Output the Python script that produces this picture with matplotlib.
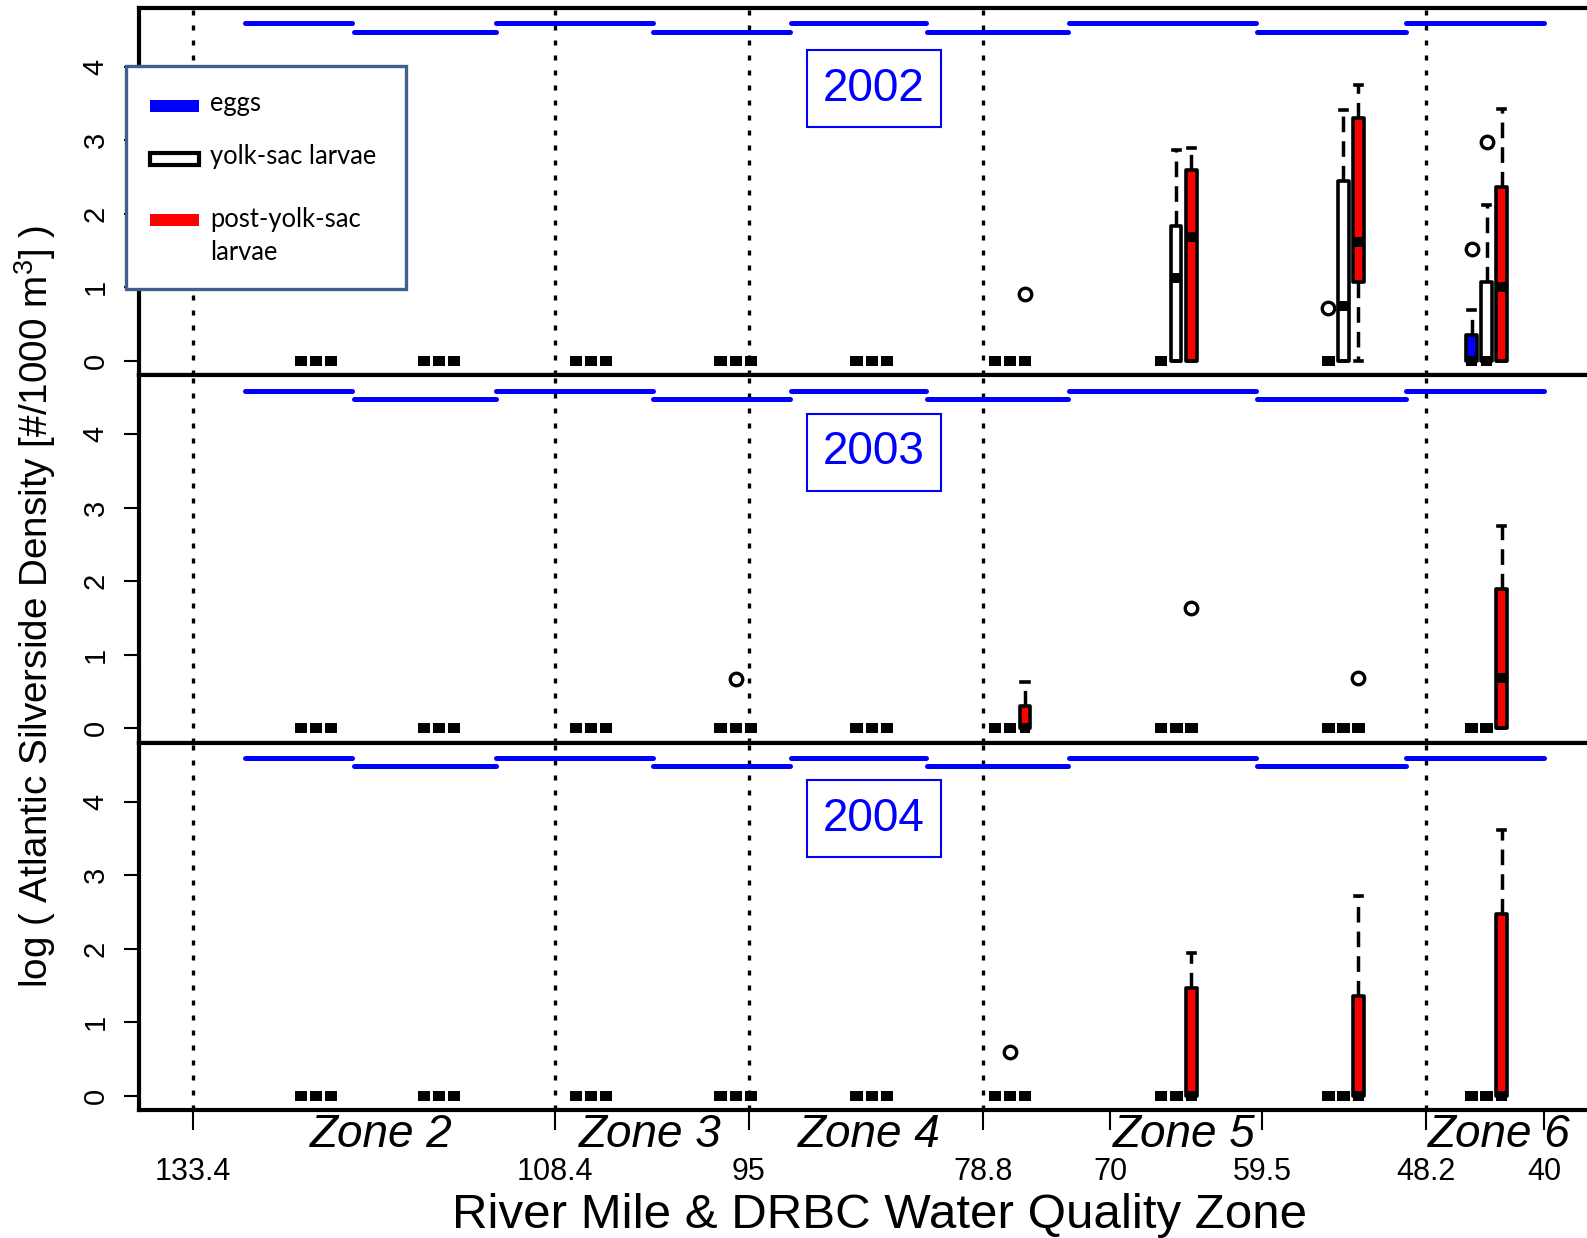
import matplotlib
matplotlib.use("Agg")
import matplotlib.pyplot as plt
import matplotlib.transforms as mtransforms
from matplotlib.patches import Rectangle

plt.rcParams['font.family'] = ['Liberation Sans', 'DejaVu Sans']
plt.rcParams['mathtext.fontset'] = 'custom'
plt.rcParams['mathtext.rm'] = 'Liberation Sans'
plt.rcParams['mathtext.it'] = 'Liberation Sans:italic'

# ---- data -------------------------------------------------------------
years = ["2002", "2003", "2004"]
station_mile = [124.9, 116.4, 105.9, 95.9, 86.5, 76.95, 65.45, 53.9, 44.0]
stage_names = ["eggs", "yolk-sac larvae", "post-yolk-sac", "larvae"]
stage_colors = ["#0000ff", "white", "#ff0000"]

zone_bounds = [133.4, 108.4, 95, 78.8, 48.2]
tick_miles = [133.4, 108.4, 95, 78.8, 70, 59.5, 48.2, 40]
tick_labels = ["133.4", "108.4", "95", "78.8", "70", "59.5", "48.2", "40"]
zone_names = ["Zone 2", "Zone 3", "Zone 4", "Zone 5", "Zone 6"]
zone_label_mile = [120.4, 101.8, 86.7, 64.9, 43.1]

# sampling reaches shown as blue bars along the top of each panel
reach_start = [129.8, 122.3, 112.45, 101.6, 92.1, 82.7, 72.9, 59.9, 49.55]
reach_end = [122.4, 112.5, 101.65, 92.15, 82.75, 72.95, 59.95, 49.6, 40.0]
reach_level = [4.59, 4.48, 4.59, 4.48, 4.59, 4.48, 4.59, 4.48, 4.59]

# box stats per station: (whislo, q1, med, q3, whishi, fliers) for eggs, yolk-sac, post-yolk-sac
Z = (0, 0, 0, 0, 0, ())
box_2002 = [
    [Z, Z, Z],
    [Z, Z, Z],
    [Z, Z, Z],
    [Z, Z, Z],
    [Z, Z, Z],
    [Z, Z, (0, 0, 0, 0, 0, (0.91,))],
    [Z, (0, 0, 1.13, 1.84, 2.87, ()), (0, 0, 1.69, 2.59, 2.89, ())],
    [(0, 0, 0, 0, 0, (0.72,)), (0, 0, 0.75, 2.45, 3.41, ()), (0, 1.07, 1.61, 3.30, 3.75, ())],
    [(0, 0, 0, 0.35, 0.69, (1.52,)), (0, 0, 0, 1.07, 2.12, (2.98,)), (0, 0, 1.01, 2.37, 3.42, ())],
]
box_2003 = [
    [Z, Z, Z],
    [Z, Z, Z],
    [Z, Z, Z],
    [Z, (0, 0, 0, 0, 0, (0.67,)), Z],
    [Z, Z, Z],
    [Z, Z, (0, 0, 0, 0.30, 0.63, ())],
    [Z, Z, (0, 0, 0, 0, 0, (1.63,))],
    [Z, Z, (0, 0, 0, 0, 0, (0.69,))],
    [Z, Z, (0, 0, 0.69, 1.89, 2.75, ())],
]
box_2004 = [
    [Z, Z, Z],
    [Z, Z, Z],
    [Z, Z, Z],
    [Z, Z, Z],
    [Z, Z, Z],
    [Z, (0, 0, 0, 0, 0, (0.60,)), Z],
    [Z, Z, (0, 0, 0, 1.47, 1.94, ())],
    [Z, Z, (0, 0, 0, 1.36, 2.72, ())],
    [Z, Z, (0, 0, 0, 2.47, 3.61, ())],
]
all_boxes = [box_2002, box_2003, box_2004]

# ---- figure -----------------------------------------------------------
fig = plt.figure(figsize=(15.87, 12.38), dpi=100)
left, right, top, bottom = 0.0874, 1.0, 0.9935, 0.1031
ph = (top - bottom) / 3
offset = 1.04
year_y = [0.78, 0.791, 0.794]

axes = []
for i, year in enumerate(years):
    ax = fig.add_axes([left, top - (i + 1) * ph, right - left, ph])
    axes.append(ax)
    ax.set_xlim(137.17, 37.06)
    ax.set_ylim(-0.2, 4.8)
    for s in ["left", "top", "bottom"]:
        ax.spines[s].set_linewidth(3)
    ax.spines["right"].set_visible(False)

    for xm in zone_bounds:
        ax.axvline(xm, color="black", lw=2.4, linestyle=(0, (1.5, 3)), zorder=1)

    for x0, x1, lv in zip(reach_start, reach_end, reach_level):
        ax.plot([x0, x1], [lv, lv], color="#0000ff", lw=3.6,
                solid_capstyle="round", zorder=2)

    stats, pos, cols, wids = [], [], [], []
    for k, st in enumerate(all_boxes[i]):
        for j in range(3):
            wlo, q1, med, q3, whi, fl = st[j]
            stats.append(dict(whislo=wlo, q1=q1, med=med, q3=q3,
                              whishi=whi, fliers=list(fl)))
            # river mile decreases to the right
            pos.append(station_mile[k] - (j - 1) * offset)
            cols.append(stage_colors[j])
            wids.append(0.86 if q3 == q1 else 0.72)
    bp = ax.bxp(stats, positions=pos, widths=wids, capwidths=0.5,
                patch_artist=True, manage_ticks=False,
                boxprops=dict(linewidth=2.6, edgecolor="black"),
                medianprops=dict(color="black", linewidth=7.2,
                                 solid_capstyle="butt"),
                whiskerprops=dict(color="black", linewidth=2.5,
                                  linestyle=(0, (4.5, 2.6))),
                capprops=dict(color="black", linewidth=2.6),
                flierprops=dict(marker="o", markerfacecolor="none",
                                markeredgecolor="black", markersize=9,
                                markeredgewidth=2.4))
    for patch, c in zip(bp["boxes"], cols):
        patch.set_facecolor(c)
        patch.set_zorder(3)
        patch.set_joinstyle("round")
    for ln in bp["medians"] + bp["whiskers"] + bp["caps"] + bp["fliers"]:
        ln.set_zorder(4)

    ax.text(0.5077, year_y[i], year, transform=ax.transAxes, color="#0000ff",
            fontsize=33, ha="center", va="center",
            bbox=dict(boxstyle="square,pad=0.36", fc="white", ec="#0000ff", lw=1.5))

    ax.set_yticks([0, 1, 2, 3, 4])
    ax.set_yticklabels(["0", "1", "2", "3", "4"], fontsize=21)
    for lab in ax.get_yticklabels():
        lab.set_rotation(90)
        lab.set_va("center")
    ax.tick_params(axis="y", direction="out", length=10.8, width=1.5, pad=10)
    if i < 2:
        ax.set_xticks([])

ax = axes[-1]
ax.set_xticks(tick_miles)
ax.set_xticklabels(tick_labels, fontsize=22)
ax.tick_params(axis="x", direction="out", length=14.5, width=1.5, pad=19)

trans = mtransforms.blended_transform_factory(ax.transData, fig.transFigure)
for name, xm in zip(zone_names, zone_label_mile):
    fig.text(xm, 0.0835, name, transform=trans, fontsize=33, fontstyle="italic",
             ha="center", va="center")

fig.text(0.554, 0.018, "River Mile & DRBC Water Quality Zone", fontsize=35.5,
         ha="center", va="center")
fig.text(0.0223, 0.510, r"log ( Atlantic Silverside Density [#/1000 m$^{3}$] )",
         fontsize=27.8, rotation=90, ha="center", va="center")

# ---- legend ------------------------------------------------------------
fig.add_artist(Rectangle((0.0791, 0.7662), 0.1766, 0.1801, transform=fig.transFigure,
                         facecolor="white", edgecolor="#3f5f8c", lw=2.4, zorder=10))
fig.add_artist(Rectangle((0.0945, 0.9095), 0.0309, 0.0097, transform=fig.transFigure,
                         facecolor="#0000ff", edgecolor="none", zorder=11))
fig.add_artist(Rectangle((0.0943, 0.8670), 0.0309, 0.0097, transform=fig.transFigure,
                         facecolor="white", edgecolor="black", lw=3, zorder=11))
fig.add_artist(Rectangle((0.0945, 0.8177), 0.0309, 0.0095, transform=fig.transFigure,
                         facecolor="#ff0000", edgecolor="none", zorder=11))
for txt, yy in zip(stage_names, [0.9103, 0.8673, 0.8169, 0.7900]):
    fig.text(0.1323, yy, txt, fontsize=18.4, family=["Lato", "DejaVu Sans"],
             va="baseline", ha="left", zorder=12)

fig.savefig("out.png", dpi=100)
